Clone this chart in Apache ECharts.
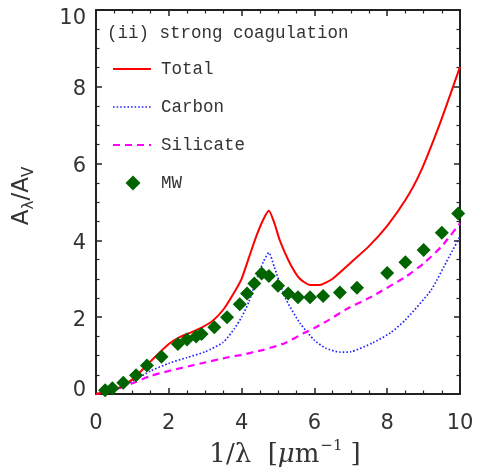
<!DOCTYPE html>
<html>
<head>
<meta charset="utf-8">
<script src="https://cdn.jsdelivr.net/npm/echarts@6/dist/echarts.min.js"></script>
<style>
  html, body { margin: 0; padding: 0; background: #fff; }
  #chart { width: 477px; height: 474px; }
</style>
</head>
<body>
<div id="chart"></div>
<script>
// Extinction curves A_lambda / A_V versus inverse wavelength (1/um)
const totalX = [0, 0.5, 1.0, 1.5, 2.0, 2.3, 2.6, 2.9, 3.2, 3.5, 3.8, 4.0, 4.2, 4.4, 4.6, 4.75, 4.9, 5.05, 5.33, 5.6, 5.88, 6.15, 6.5, 7.0, 7.5, 8.0, 8.5, 8.9, 9.45, 10];
const totalY = [0, 0.1, 0.38, 0.85, 1.3, 1.48, 1.6, 1.73, 1.9, 2.2, 2.65, 3.0, 3.55, 4.1, 4.55, 4.77, 4.45, 4.0, 3.4, 3.0, 2.84, 2.84, 3.0, 3.42, 3.85, 4.38, 5.05, 5.75, 7.05, 8.52];

const carbonX = [0, 0.5, 1.0, 1.5, 2.0, 2.5, 3.0, 3.5, 3.8, 4.0, 4.2, 4.4, 4.6, 4.75, 4.9, 5.2, 5.6, 6.0, 6.3, 6.7, 7.0, 7.6, 8.1, 8.5, 9.2, 9.7, 10];
const carbonY = [0, 0.1, 0.33, 0.6, 0.8, 0.95, 1.1, 1.35, 1.7, 2.0, 2.4, 2.95, 3.45, 3.68, 3.3, 2.5, 1.85, 1.4, 1.2, 1.09, 1.1, 1.33, 1.6, 1.93, 2.7, 3.57, 4.1];

const silicateX = [0, 0.5, 1.0, 1.5, 2.0, 2.9, 3.6, 4.0, 4.6, 5.2, 5.7, 6.0, 6.4, 6.9, 7.6, 8.5, 9.0, 9.5, 10];
const silicateY = [0, 0.1, 0.28, 0.47, 0.6, 0.8, 0.95, 1.02, 1.15, 1.33, 1.58, 1.72, 1.93, 2.22, 2.55, 3.05, 3.4, 3.85, 4.45];

const mwX = [0.25, 0.45, 0.75, 1.1, 1.4, 1.8, 2.25, 2.5, 2.75, 2.9, 3.25, 3.6, 3.95, 4.15, 4.35, 4.55, 4.75, 5.0, 5.28, 5.55, 5.88, 6.24, 6.7, 7.17, 8.0, 8.5, 9.0, 9.5, 9.95];
const mwY = [0.1, 0.15, 0.29, 0.49, 0.74, 0.97, 1.3, 1.42, 1.5, 1.56, 1.74, 2.0, 2.34, 2.62, 2.88, 3.14, 3.07, 2.82, 2.62, 2.52, 2.52, 2.55, 2.64, 2.77, 3.15, 3.43, 3.75, 4.2, 4.7];

const seriesNames = ['Total', 'Carbon', 'Silicate', 'MW'];
const panelTitle = '(ii) strong coagulation';

const zip = (xs, ys) => xs.map((x, i) => [x, ys[i]]);

const INK = '#222';
const TEXT = '#333';
const TICK_FONT = 'DejaVu Sans';
const MONO = 'Liberation Mono';

function axisBase(pos, showLabels) {
  return {
    type: 'value',
    position: pos,
    min: 0,
    max: 10,
    interval: 2,
    axisLine: { show: true, onZero: false, lineStyle: { color: INK, width: 2 } },
    axisTick: { show: true, inside: true, length: 6, lineStyle: { color: INK, width: 1.5 } },
    minorTick: { show: true, splitNumber: 4, length: 3.5, lineStyle: { color: INK, width: 1.2 } },
    splitLine: { show: false },
    axisLabel: {
      show: showLabels,
      fontFamily: TICK_FONT,
      fontSize: 21,
      color: TEXT
    }
  };
}

const xBottom = axisBase('bottom', true);
xBottom.axisLabel.margin = 19;
const xTop = axisBase('top', false);
const yLeft = axisBase('left', true);
yLeft.axisLabel.margin = 10;
// labels sit a little below their ticks, the top one more so
yLeft.axisLabel.formatter = v => (v === 10 ? '{t|' + v + '}' : v === 0 ? '{b|' + v + '}' : '{m|' + v + '}');
yLeft.axisLabel.rich = {
  t: { fontFamily: TICK_FONT, fontSize: 21, color: TEXT, padding: [18, 0, 0, 0] },
  m: { fontFamily: TICK_FONT, fontSize: 21, color: TEXT, padding: [6, 0, 0, 0] },
  b: { fontFamily: TICK_FONT, fontSize: 21, color: TEXT, padding: [0, 0, 6, 0] }
};
const yRight = axisBase('right', false);

// legend drawn as graphic items: sample line / symbol and label
const legendTop = 69, legendStep = 38, sampleX0 = 113, sampleX1 = 151, labelX = 161;
const legendGraphics = [];
const sampleStyles = [
  { stroke: '#ff0000', lineWidth: 2 },
  { stroke: '#2424ff', lineWidth: 1.7, lineDash: [1.6, 2] },
  { stroke: '#ff00ff', lineWidth: 2.2, lineDash: [7, 5] }
];
sampleStyles.forEach((st, i) => {
  legendGraphics.push({
    type: 'line',
    shape: { x1: sampleX0, y1: legendTop + i * legendStep, x2: sampleX1, y2: legendTop + i * legendStep },
    style: st
  });
});
const dy = legendTop + 3 * legendStep;
legendGraphics.push({
  type: 'polygon',
  shape: { points: [[133, dy - 7.5], [140.5, dy], [133, dy + 7.5], [125.5, dy]] },
  style: { fill: '#006400' }
});
seriesNames.forEach((name, i) => {
  legendGraphics.push({
    type: 'text',
    x: labelX,
    y: legendTop + i * legendStep,
    style: { text: name, font: '17.5px "' + MONO + '"', fill: TEXT, verticalAlign: 'middle' }
  });
});

const option = {
  animation: false,
  backgroundColor: '#fff',
  grid: { left: 96, right: 17, top: 10, bottom: 80 },
  xAxis: [xBottom, xTop],
  yAxis: [yLeft, yRight],
  series: [
    {
      name: seriesNames[0], type: 'line', data: zip(totalX, totalY),
      showSymbol: false, symbol: 'none', smooth: 0.2, z: 4,
      lineStyle: { color: '#ff0000', width: 2 }
    },
    {
      name: seriesNames[1], type: 'line', data: zip(carbonX, carbonY),
      showSymbol: false, symbol: 'none', smooth: 0.2, z: 3,
      lineStyle: { color: '#2424ff', width: 1.7, type: [1.6, 2] }
    },
    {
      name: seriesNames[2], type: 'line', data: zip(silicateX, silicateY),
      showSymbol: false, symbol: 'none', smooth: 0.2, z: 3,
      lineStyle: { color: '#ff00ff', width: 2.2, type: [7, 5] }
    },
    {
      name: seriesNames[3], type: 'scatter', data: zip(mwX, mwY),
      symbol: 'diamond', symbolSize: [14, 14], z: 5,
      itemStyle: { color: '#006400', opacity: 1 }
    }
  ],
  graphic: [
    {
      type: 'text', x: 107, y: 33,
      style: { text: panelTitle, font: '17.5px "' + MONO + '"', fill: TEXT, verticalAlign: 'middle' }
    },
    ...legendGraphics,
    {
      // x axis title: 1/lambda [um^-1]
      type: 'text', x: 285, y: 455,
      style: {
        text: '{a|1/λ  [}{i|μ}{a|m}{s|−1}{a|]}',
        align: 'center', verticalAlign: 'middle',
        rich: {
          a: { fontFamily: 'DejaVu Serif', fontSize: 26, lineHeight: 32, fill: TEXT },
          i: { fontFamily: 'DejaVu Serif', fontStyle: 'italic', fontSize: 26, lineHeight: 32, fill: TEXT },
          s: { fontFamily: 'DejaVu Serif', fontSize: 15, lineHeight: 18, verticalAlign: 'top', fill: TEXT, padding: [0, 8, 0, 1] }
        }
      }
    },
    {
      // y axis title: A_lambda / A_V
      type: 'text', x: 22, y: 196, rotation: Math.PI / 2,
      style: {
        text: '{a|A}{s|λ}{a|/A}{s|V}',
        align: 'center', verticalAlign: 'middle',
        rich: {
          a: { fontFamily: 'DejaVu Sans', fontSize: 23, lineHeight: 30, fill: TEXT },
          s: { fontFamily: 'DejaVu Sans', fontSize: 15, lineHeight: 16, verticalAlign: 'bottom', fill: TEXT }
        }
      }
    }
  ]
};

const chart = echarts.init(document.getElementById('chart'), null, { renderer: 'canvas' });
chart.setOption(option);
</script>
</body>
</html>
